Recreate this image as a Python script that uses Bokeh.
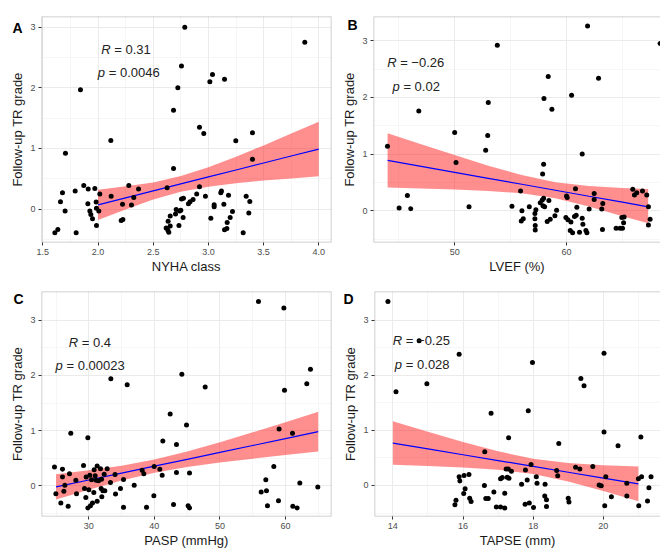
from bokeh.plotting import figure
from bokeh.models import Range1d, FixedTicker, Label, BoxAnnotation, Title
from bokeh.layouts import column, row
from bokeh.embed import file_html
from bokeh.resources import INLINE

# ---------------- data ----------------
y_title = "Follow-up TR grade"
panel_letters = ["A", "B", "C", "D"]
x_titles = ["NYHA class", "LVEF (%)", "PASP (mmHg)", "TAPSE (mm)"]
stat_r = ["0.31", "\u22120.26", "0.4", "\u22120.25"]
stat_p = ["0.0046", "0.02", "0.00023", "0.028"]

y_ticks = [0, 1, 2, 3]
y_tick_labels = ["0", "1", "2", "3"]
y_minor = [-0.5, 0.5, 1.5, 2.5]

nyha_ticks = [1.5, 2.0, 2.5, 3.0, 3.5, 4.0]
nyha_tick_labels = ["1.5", "2.0", "2.5", "3.0", "3.5", "4.0"]
nyha_minor = [1.75, 2.25, 2.75, 3.25, 3.75]
lvef_ticks = [50, 60]
lvef_tick_labels = ["50", "60"]
lvef_minor = [45, 55, 65]
pasp_ticks = [30, 40, 50, 60]
pasp_tick_labels = ["30", "40", "50", "60"]
pasp_minor = [25, 35, 45, 55, 65]
tapse_ticks = [14, 16, 18, 20]
tapse_tick_labels = ["14", "16", "18", "20"]
tapse_minor = [15, 17, 19, 21]

nyha_x = [2.786, 3.873, 2.756, 1.841, 2.723, 3.037, 3.013, 3.146, 2.684, 2.919,
          2.958, 3.248, 3.399, 2.116, 1.705, 3.399, 2.684, 1.871, 1.678, 1.793,
          1.911, 1.971, 2.016, 2.279, 2.367, 2.324, 2.119, 1.660, 1.908, 1.983,
          1.702, 1.926, 1.935, 1.950, 1.986, 2.007, 1.986, 1.802, 1.609, 1.636,
          2.222, 2.303, 2.225, 2.210, 2.626, 2.919, 2.756, 2.774, 2.819, 2.834,
          2.861, 2.894, 2.973, 2.708, 2.739, 2.750, 2.702, 2.771, 2.635, 2.654,
          2.617, 2.632, 2.641, 2.654, 2.733, 3.052, 3.052, 3.022, 3.112, 3.118,
          3.182, 3.140, 3.218, 3.197, 3.170, 3.167, 3.146, 3.342, 3.375, 3.366,
          3.315]
nyha_y = [3.00, 2.75, 2.36, 1.97, 2.00, 2.22, 2.10, 2.14, 1.63, 1.35,
          1.245, 1.125, 1.26, 1.13, 0.92, 0.82, 0.67, 0.39, 0.27, 0.30,
          0.33, 0.34, 0.25, 0.39, 0.33, 0.19, 0.21, 0.12, 0.09, 0.115,
          -0.03, -0.03, -0.09, -0.16, 0.015, -0.03, -0.27, -0.39, -0.39, -0.335,
          0.08, 0.066, -0.17, -0.19, 0.35, 0.37, 0.165, 0.18, 0.09, 0.12,
          0.16, 0.25, 0.21, -0.005, -0.03, -0.02, -0.08, -0.14, -0.20, -0.115,
          -0.31, -0.345, -0.38, -0.28, -0.27, 0.07, 0.04, -0.15, 0.27, 0.30,
          0.23, 0.08, -0.04, -0.14, -0.22, -0.32, -0.34, 0.21, 0.126, -0.065,
          -0.39]
nyha_fit_x = [2.0, 2.25, 2.5, 2.75, 3.0, 3.25, 3.5, 3.75, 4.0]
nyha_fit_y = [0.07, 0.185, 0.30, 0.415, 0.53, 0.645, 0.76, 0.875, 0.99]
nyha_fit_hi = [0.32, 0.375, 0.44, 0.545, 0.69, 0.865, 1.05, 1.245, 1.44]
nyha_fit_lo = [-0.18, -0.005, 0.16, 0.285, 0.37, 0.425, 0.47, 0.505, 0.54]

lvef_x = [61.88, 53.81, 68.36, 58.36, 62.86, 57.98, 60.45, 46.79, 53.0, 58.69,
          50.0, 52.95, 52.77, 43.99, 61.4, 50.12, 57.95, 57.86, 45.77, 45.03,
          46.07, 51.28, 55.12, 55.89, 56.01, 56.13, 55.95, 56.67, 57.17, 57.17,
          57.2, 57.2, 57.26, 57.65, 57.83, 57.95, 57.89, 58.04, 58.27, 58.42,
          58.54, 58.96, 59.11, 60.0, 60.06, 59.94, 60.12, 60.33, 60.39, 60.54,
          60.71, 60.86, 60.92, 60.8, 61.16, 61.46, 61.40, 61.73, 61.82, 62.02,
          62.47, 62.47, 63.15, 63.24, 63.21, 64.43, 64.79, 65.0, 65.1, 64.94,
          65.15, 65.92, 66.07, 66.28, 66.79, 67.17, 67.32, 67.47, 67.32]
lvef_y = [3.26, 2.92, 2.95, 2.37, 2.34, 1.98, 2.04, 1.76, 1.91, 1.79,
          1.38, 1.33, 1.07, 1.14, 1.0, 0.85, 0.82, 0.65, 0.27, 0.05,
          0.035, 0.07, 0.08, 0.35, 0.0, -0.14, -0.18, 0.07, -0.05, -0.14,
          -0.26, -0.34, 0.02, 0.14, 0.19, 0.22, 0.09, 0.07, -0.19, 0.18,
          -0.15, -0.09, 0.01, 0.26, 0.235, -0.12, -0.16, -0.35, -0.2, -0.39,
          -0.10, -0.08, 0.06, 0.39, -0.38, -0.24, -0.13, -0.35, -0.39, 0.03,
          0.305, 0.2, 0.03, 0.13, -0.33, -0.31, -0.31, -0.31, -0.21, -0.12,
          -0.11, 0.38, 0.28, 0.32, 0.35, 0.28, 0.07, -0.15, -0.25]
lvef_fit_x = [44, 47, 50, 53, 56, 59, 62, 65, 67.3]
lvef_fit_y = [0.89, 0.784, 0.679, 0.573, 0.468, 0.362, 0.256, 0.151, 0.07]
lvef_fit_hi = [1.37, 1.174, 0.982, 0.796, 0.629, 0.503, 0.435, 0.40, 0.382]
lvef_fit_lo = [0.41, 0.394, 0.376, 0.35, 0.307, 0.221, 0.077, -0.098, -0.22]

pasp_x = [55.88, 59.75, 33.36, 35.85, 44.19, 47.75, 63.81, 63.25, 59.85, 42.41,
          44.9, 59.03, 61.07, 27.25, 29.85, 41.29, 43.37, 58.22, 57.0, 56.29,
          57.1, 57.25, 58.93, 61.12, 61.78, 62.19, 64.93, 24.76, 25.98, 24.97,
          25.73, 26.85, 25.98, 26.34, 26.19, 27.05, 28.02, 28.12, 29.19, 29.34,
          29.59, 29.54, 29.85, 30.0, 30.15, 30.25, 30.41, 30.56, 30.76, 30.81,
          30.97, 31.27, 31.12, 31.47, 31.27, 31.78, 31.88, 31.93, 31.98, 32.14,
          32.44, 32.34, 32.8, 33.3, 34.0, 34.07, 34.83, 35.29, 35.29, 36.92,
          38.14, 38.39, 38.8, 39.97, 39.92, 40.83, 41.19, 43.37, 42.92, 45.36,
          45.15, 45.36]
pasp_y = [3.34, 3.22, 1.94, 1.83, 2.02, 1.79, 2.11, 1.85, 1.73, 1.30,
          1.10, 1.03, 0.95, 0.95, 0.87, 0.81, 0.75, 0.35, 0.11, -0.11,
          -0.09, -0.36, -0.27, -0.37, -0.40, 0.05, -0.02, 0.34, 0.30, -0.145,
          -0.31, -0.37, 0.16, 0.01, -0.10, 0.22, 0.10, -0.145, 0.37, -0.05,
          0.16, -0.21, -0.40, -0.07, 0.19, -0.36, 0.11, -0.31, -0.12, 0.29,
          0.18, 0.36, 0.10, 0.09, -0.28, 0.31, -0.05, 0.12, -0.20, -0.09,
          -0.09, 0.21, 0.31, 0.06, 0.205, -0.15, -0.05, -0.39, 0.115, 0.01,
          0.28, 0.22, -0.39, 0.35, -0.18, 0.30, 0.19, 0.24, -0.34, 0.23,
          -0.36, -0.40]
pasp_fit_x = [25, 30, 35, 40, 45, 50, 55, 60, 65]
pasp_fit_y = [-0.02, 0.105, 0.23, 0.355, 0.48, 0.605, 0.73, 0.855, 0.98]
pasp_fit_hi = [0.21, 0.281, 0.365, 0.475, 0.62, 0.788, 0.968, 1.152, 1.34]
pasp_fit_lo = [-0.25, -0.071, 0.095, 0.235, 0.34, 0.422, 0.492, 0.558, 0.62]

tapse_x = [13.86, 14.75, 15.89, 17.98, 20.02, 14.09, 14.97, 19.36, 19.45, 16.8,
           17.86, 17.30, 20.02, 21.07, 18.73, 20.42, 16.62, 15.89, 15.91, 16.03,
           16.17, 16.02, 16.06, 15.80, 15.77, 16.19, 16.23, 16.61, 16.65, 16.72,
           16.88, 16.95, 17.07, 17.19, 17.19, 17.07, 17.12, 17.23, 17.26, 17.31,
           17.29, 17.38, 17.67, 17.78, 17.77, 17.83, 17.89, 17.94, 18.01, 18.09,
           18.11, 18.33, 18.38, 18.38, 18.34, 18.67, 18.70, 19.0, 19.02, 19.21,
           19.33, 19.70, 19.88, 19.94, 20.07, 20.04, 20.23, 20.67, 20.67, 21.0,
           21.01, 21.09, 21.30, 21.26, 21.36]
tapse_y = [3.34, 2.625, 2.38, 2.23, 2.40, 1.70, 1.845, 1.94, 1.81, 1.31,
           1.355, 0.865, 0.97, 0.88, 0.76, 0.72, 0.61, 0.16, 0.08, 0.18,
           0.20, -0.145, -0.06, -0.27, -0.35, -0.23, -0.29, 0.0, -0.235, -0.235,
           -0.12, -0.39, -0.39, -0.41, -0.14, 0.12, 0.145, 0.30, 0.15, 0.13,
           0.30, 0.26, 0.02, 0.28, -0.34, 0.10, -0.32, 0.38, -0.40, 0.16,
           0.04, -0.19, -0.26, -0.38, 0.02, 0.27, 0.175, -0.23, -0.30, 0.33,
           0.30, 0.345, 0.01, -0.005, 0.16, -0.37, -0.205, 0.04, -0.19, 0.12,
           -0.37, 0.16, -0.04, -0.28, 0.16]
tapse_fit_x = [14, 15, 16, 17, 18, 19, 20, 21]
tapse_fit_y = [0.77, 0.664, 0.558, 0.452, 0.346, 0.24, 0.134, 0.028]
tapse_fit_hi = [1.165, 0.974, 0.789, 0.619, 0.486, 0.41, 0.369, 0.343]
tapse_fit_lo = [0.375, 0.354, 0.327, 0.285, 0.206, 0.07, -0.101, -0.287]

FONT = "Liberation Sans"


def make_panel(idx, xs, ys, fx, fy, flo, fhi, xticks, xlabels, xminor,
               xr, yr, width, height, borders, stat_pos, letter_pos, open_right):
    bl, br, bt, bb = borders
    p = figure(width=width, height=height, x_range=Range1d(*xr), y_range=Range1d(*yr),
               output_backend="svg", toolbar_location=None,
               min_border_left=bl, min_border_right=br, min_border_top=bt,
               min_border_bottom=bb, background_fill_color="white",
               border_fill_color="white")
    p.outline_line_color = None

    p.xaxis.ticker = FixedTicker(ticks=xticks, minor_ticks=xminor)
    p.xaxis.major_label_overrides = dict(zip(xticks, xlabels))
    p.yaxis.ticker = FixedTicker(ticks=y_ticks, minor_ticks=y_minor)
    p.yaxis.major_label_overrides = dict(zip(y_ticks, y_tick_labels))
    for ax in (p.xaxis[0], p.yaxis[0]):
        ax.axis_line_color = None
        ax.major_tick_line_color = "#333333"
        ax.major_tick_in = 0
        ax.major_tick_out = 3
        ax.minor_tick_line_color = None
        ax.major_label_text_font = FONT
        ax.major_label_text_font_size = "9px"
        ax.major_label_text_color = "#4d4d4d"
        ax.major_label_standoff = 2
        ax.axis_label_text_font = FONT
        ax.axis_label_text_font_size = "13px"
        ax.axis_label_text_font_style = "normal"
        ax.axis_label_text_color = "#1a1a1a"
        ax.axis_label_standoff = 2
    p.xaxis.axis_label = x_titles[idx]
    p.xaxis.axis_label_standoff = 1
    p.yaxis.axis_label = y_title

    for g in (p.xgrid[0], p.ygrid[0]):
        g.grid_line_color = "#ebebeb"
        g.grid_line_width = 1
        g.minor_grid_line_color = "#f0f0f0"
        g.minor_grid_line_width = 0.6

    p.varea(x=fx, y1=flo, y2=fhi, fill_color="#ff0000", fill_alpha=0.44)
    p.line(fx, fy, line_color="#0000ff", line_width=1.2)
    p.scatter(xs, ys, size=5, fill_color="black", line_color=None)

    box = dict(fill_alpha=0, line_color="#333333", line_width=1.5, level="overlay")
    if open_right:
        box["right"] = xr[1] + (xr[1] - xr[0])
    p.add_layout(BoxAnnotation(**box))

    (rx, ry, rw), (px_, py, pw) = stat_pos
    common = dict(text_font=FONT, text_font_size="13px", text_color="#222222",
                  text_baseline="middle", text_align="left")
    p.add_layout(Label(x=rx, y=ry, text="R", text_font_style="italic", **common))
    p.add_layout(Label(x=rx, y=ry, x_offset=rw, text="= " + stat_r[idx], **common))
    p.add_layout(Label(x=px_, y=py, text="p", text_font_style="italic", **common))
    p.add_layout(Label(x=px_, y=py, x_offset=pw, text="= " + stat_p[idx], **common))

    off, stand, valign, lh = letter_pos
    p.add_layout(Title(text=panel_letters[idx], align="left", vertical_align=valign,
                       offset=off, standoff=stand, text_line_height=lh,
                       text_font=FONT, text_font_size="14px", text_font_style="bold",
                       text_color="black"), "above")
    return p


pA = make_panel(0, nyha_x, nyha_y, nyha_fit_x, nyha_fit_y, nyha_fit_lo, nyha_fit_hi,
                nyha_ticks, nyha_tick_labels, nyha_minor,
                (1.488, 4.115), (-0.551, 3.176), 333, 282, (41, 2, 16, 40),
                ((2.029, 2.638, 13), (1.998, 2.254, 11)), (-29, -38, "bottom", 2.6), False)
pB = make_panel(1, lvef_x, lvef_y, lvef_fit_x, lvef_fit_y, lvef_fit_lo, lvef_fit_hi,
                lvef_ticks, lvef_tick_labels, lvef_minor,
                (42.74, 68.4), (-0.56, 3.428), 327, 282, (40, 0, 16, 40),
                ((43.96, 2.614, 13), (44.43, 2.20, 11)), (-26, -32, "bottom", 2.1), True)
pC = make_panel(2, pasp_x, pasp_y, pasp_fit_x, pasp_fit_y, pasp_fit_lo, pasp_fit_hi,
                pasp_ticks, pasp_tick_labels, pasp_minor,
                (22.78, 67.02), (-0.556, 3.52), 333, 270, (41, 2, 9, 36),
                ((26.94, 2.60, 13), (24.92, 2.183, 11)), (-28, -30, "bottom", 1.2), False)
pD = make_panel(3, tapse_x, tapse_y, tapse_fit_x, tapse_fit_y, tapse_fit_lo, tapse_fit_hi,
                tapse_ticks, tapse_tick_labels, tapse_minor,
                (13.477, 21.63), (-0.563, 3.52), 327, 270, (41, 0, 9, 36),
                ((14.0, 2.63, 13), (14.057, 2.196, 11)), (-31, -30, "bottom", 1.3), True)

layout = column(row(pA, pB), row(pC, pD))

open("out.html", "w").write(file_html(layout, INLINE))
